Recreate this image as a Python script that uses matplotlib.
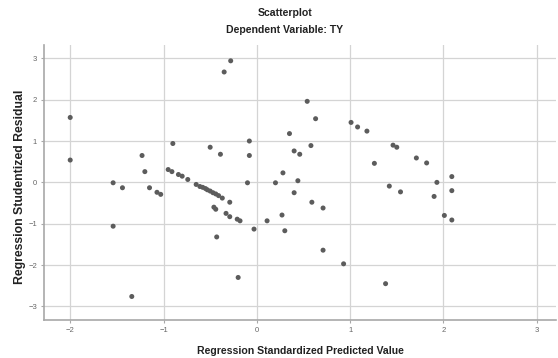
import matplotlib
matplotlib.use("Agg")
import matplotlib.pyplot as plt

plt.rcParams['font.family'] = ['Liberation Sans', 'DejaVu Sans']

# predicted values (standardized) and studentized residuals
pred = [-2.00, -2.00, -1.54, -1.44, -1.23, -1.20, -1.15, -1.07, -1.03, -0.90,
        -0.95, -0.91, -0.84, -0.80, -0.74, -0.65, -0.61, -0.58, -0.55, -0.53,
        -0.50, -0.47, -0.44, -0.41, -0.37, -0.29, -0.46, -0.44, -0.33, -0.29,
        -0.21, -0.18, -0.03, -0.43, -0.50, -0.39, -0.08, -0.08, -0.10, -1.54,
        -1.34, -0.28, -0.35, -0.20, 0.11, 0.27, 0.30, 0.20, 0.28, 0.40,
        0.44, 0.59, 0.35, 0.40, 0.46, 0.58, 0.54, 0.63, 0.71, 0.71,
        0.93, 1.01, 1.08, 1.18, 1.26, 1.46, 1.50, 1.71, 1.82, 1.42,
        1.54, 1.93, 1.90, 2.09, 2.09, 2.01, 2.09, 1.38]
resid = [1.57, 0.54, -0.01, -0.13, 0.65, 0.26, -0.13, -0.24, -0.29, 0.94,
         0.31, 0.26, 0.19, 0.15, 0.07, -0.05, -0.10, -0.12, -0.15, -0.18,
         -0.21, -0.25, -0.28, -0.32, -0.38, -0.48, -0.60, -0.65, -0.75, -0.83,
         -0.89, -0.93, -1.13, -1.32, 0.85, 0.68, 1.00, 0.65, -0.01, -1.06,
         -2.76, 2.94, 2.67, -2.30, -0.93, -0.79, -1.17, -0.01, 0.23, -0.25,
         0.04, -0.48, 1.18, 0.76, 0.68, 0.89, 1.96, 1.54, -0.62, -1.64,
         -1.97, 1.45, 1.34, 1.24, 0.46, 0.90, 0.85, 0.59, 0.47, -0.09,
         -0.23, 0.00, -0.34, 0.14, -0.20, -0.80, -0.91, -2.45]

xticks = [-2, -1, 0, 1, 2, 3]
yticks = [-3, -2, -1, 0, 1, 2, 3]

fig = plt.figure(figsize=(5.58, 3.58), dpi=100)
ax = fig.add_axes([0.079, 0.106, 0.918, 0.768])

ax.scatter(pred, resid, s=13, color='#5c5c5c', edgecolors='none', zorder=3)

ax.set_xlim(-2.28, 3.21)
ax.set_ylim(-3.33, 3.32)
ax.set_xticks(xticks)
ax.set_yticks(yticks)
ax.grid(True, color='#d4d4d4', linewidth=0.9)
ax.set_axisbelow(True)

for s in ['top', 'right']:
    ax.spines[s].set_visible(False)
for s in ['left', 'bottom']:
    ax.spines[s].set_color('#a8a8a8')
    ax.spines[s].set_linewidth(1.2)

ax.tick_params(axis='both', labelsize=5.5, labelcolor='#666666', color='#a8a8a8',
               length=2, width=0.8, pad=3)

ax.set_xlabel('Regression Standardized Predicted Value', fontsize=7.6,
              fontweight='bold', color='#222222', labelpad=9)
fig.text(20 / 558, 1 - 187 / 358, 'Regression Studentized Residual', rotation=90,
         ha='center', va='center', fontsize=8.8, fontweight='bold', color='#222222')

fig.text(285 / 558, 1 - 13.5 / 358, 'Scatterplot', ha='center', va='center',
         fontsize=7.6, fontweight='bold', color='#222222')
fig.text(285 / 558, 1 - 30 / 358, 'Dependent Variable: TY', ha='center', va='center',
         fontsize=7.6, fontweight='bold', color='#222222')

fig.savefig('out.png', dpi=100)
